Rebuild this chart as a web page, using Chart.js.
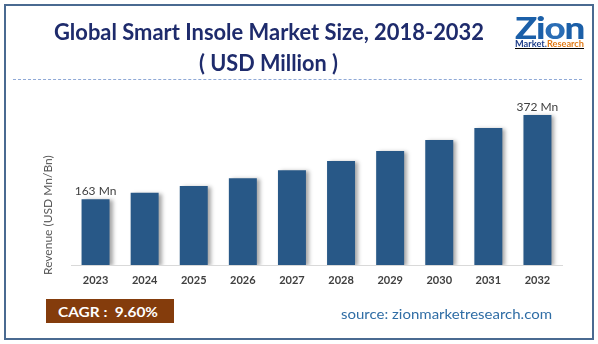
<!DOCTYPE html>
<html>
<head>
<meta charset="utf-8">
<script src="https://cdn.jsdelivr.net/npm/chart.js@4/dist/chart.umd.min.js"></script>
<style>
  html,body{margin:0;padding:0;background:#fff;}
  #wrap{position:relative;width:598px;height:344px;overflow:hidden;background:#fff;font-family:Lato,"Open Sans",sans-serif;}
  #frame{position:absolute;left:4px;top:4px;width:586px;height:332px;border:2px solid #4a6a91;box-sizing:content-box;}
  canvas{position:absolute;left:0;top:0;}
  .t{position:absolute;white-space:nowrap;line-height:1;display:inline-block;transform-origin:0 0;}
  #dash{position:absolute;left:13px;top:79px;width:569px;height:0;border-top:1px dashed #8fa9d6;}
</style>
</head>
<body>
<div id="wrap">
  <div id="frame"></div>
  <canvas id="c" width="598" height="344"></canvas>
  <div class="t" id="title1" data-w="430" style="left:54px;top:21px;font-size:22px;font-weight:bold;color:#1e2b6c;">Global Smart Insole Market Size, 2018-2032</div>
  <div class="t" id="title2" data-w="139" style="left:199px;top:52px;font-size:22px;font-weight:bold;color:#1e2b6c;">( USD Million )</div>
  <div id="dash"></div>
  <div class="t" id="logo1" data-w="69" style="left:515px;top:12px;font-size:30px;font-weight:900;color:#1b5fa8;letter-spacing:-1px;"><span style="color:#1b5fa8">Z</span>i<span style="color:#2a6db5">o</span>n</div>
  <div class="t" id="logo2" data-w="69" style="left:515px;top:39px;font-size:9px;font-weight:bold;text-decoration:underline;"><span style="color:#1f3f8a">Market.</span><span style="color:#e07a17">Research</span></div>
  <div class="t" id="ytitle" style="left:42px;top:275px;font-size:12px;color:#595959;transform:rotate(-90deg);transform-origin:0 0;">Revenue (USD Mn/Bn)</div>
  <div style="position:absolute;left:46px;top:299px;width:128px;height:24px;background:#843c0c;"></div>
  <div class="t" id="cagr" data-w="100" style="left:58px;top:306px;font-size:13px;font-weight:bold;color:#fff;">CAGR :&nbsp; 9.60%</div>
  <div class="t" id="src" data-w="211" style="left:341px;top:307px;font-size:14px;color:#2f6da5;">source: zionmarketresearch.com</div>
</div>
<script>
// ---- data ----
const years = ['2023','2024','2025','2026','2027','2028','2029','2030','2031','2032'];
const revenue = [163, 179, 196, 215, 235, 258, 283, 310, 340, 372];
const barLabels = ['163 Mn','','','','','','','','','372 Mn'];
const yMax = 420;

// fit overlay text widths
document.querySelectorAll('.t[data-w]').forEach(el => {
  const w = el.getBoundingClientRect().width;
  const target = parseFloat(el.dataset.w);
  if (w > 0) el.style.transform = 'scaleX(' + (target / w) + ')';
});

const shadowPlugin = {
  id: 'barShadow',
  beforeDatasetDraw(chart) {
    const ctx = chart.ctx;
    ctx.save();
    ctx.shadowColor = 'rgba(0,0,0,0.35)';
    ctx.shadowOffsetX = 3;
    ctx.shadowOffsetY = 1;
    ctx.shadowBlur = 4;
  },
  afterDatasetDraw(chart) { chart.ctx.restore(); }
};

const labelPlugin = {
  id: 'barLabels',
  afterDatasetsDraw(chart) {
    const ctx = chart.ctx;
    const meta = chart.getDatasetMeta(0);
    ctx.save();
    ctx.font = '12px Lato, "Open Sans", sans-serif';
    ctx.fillStyle = '#404040';
    ctx.textAlign = 'center';
    ctx.textBaseline = 'alphabetic';
    meta.data.forEach((bar, i) => {
      if (barLabels[i]) ctx.fillText(barLabels[i], bar.x, bar.y - 4);
    });
    ctx.restore();
  }
};

new Chart(document.getElementById('c'), {
  type: 'bar',
  data: {
    labels: years,
    datasets: [{
      data: revenue,
      backgroundColor: '#285887',
      borderWidth: 0,
      barPercentage: 0.57,
      categoryPercentage: 1.0
    }]
  },
  options: {
    responsive: false,
    animation: false,
    events: [],
    layout: { padding: { left: 71, right: 36, top: 265 - 150 * yMax / 372, bottom: 54 } },
    plugins: { legend: { display: false }, tooltip: { enabled: false } },
    scales: {
      x: {
        grid: { display: false, drawTicks: false },
        border: { display: true, color: '#d9d9d9', width: 1 },
        ticks: { color: '#404040', font: { family: 'Lato, "Open Sans", sans-serif', size: 11, weight: 'bold' }, padding: 9, maxRotation: 0 },
        afterFit(axis) { axis.height = 25; }
      },
      y: {
        display: false,
        min: 0,
        max: yMax
      }
    }
  },
  plugins: [shadowPlugin, labelPlugin]
});
</script>
</body>
</html>
